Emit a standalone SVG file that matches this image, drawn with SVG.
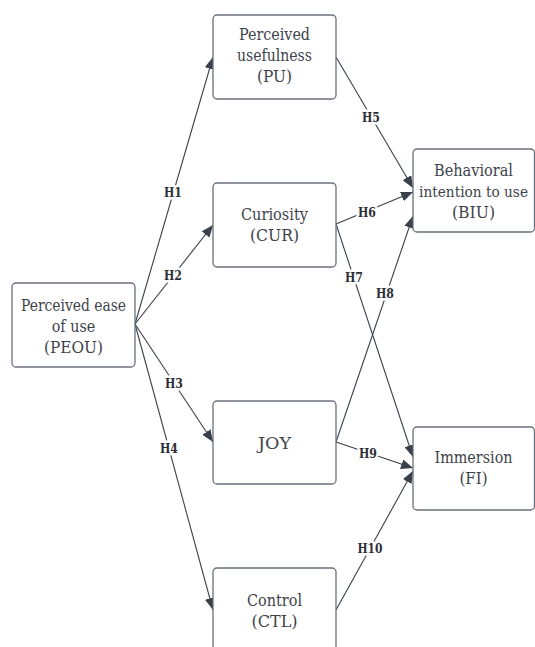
<svg xmlns="http://www.w3.org/2000/svg" width="535" height="647" viewBox="0 0 535 647">
<defs>
<style>
.box{fill:#fff;stroke:#6a717b;stroke-width:1.3}
.nt{font-family:"DejaVu Serif",serif;font-size:16px;fill:#3d434b;text-anchor:middle}
.edge{stroke:#3a4049;stroke-width:1.1;fill:none;marker-end:url(#ah)}
.lb{font-family:"DejaVu Serif",serif;font-size:12.5px;font-weight:bold;fill:#2b2f35;text-anchor:middle;stroke:#fff;stroke-width:5;paint-order:stroke;stroke-linejoin:round}
</style>
<marker id="ah" viewBox="0 0 12 10" refX="12" refY="5" markerWidth="12" markerHeight="10" markerUnits="userSpaceOnUse" orient="auto">
<path d="M0,0 L12,5 L0,10 Z" fill="#3a4049"/>
</marker>
</defs>
<rect width="535" height="647" fill="#fff"/>
<g id="connectors">
<line class="edge" x1="135" y1="324" x2="213" y2="57"/>
<line class="edge" x1="135" y1="324" x2="213" y2="225"/>
<line class="edge" x1="135" y1="324" x2="213" y2="442"/>
<line class="edge" x1="135" y1="324" x2="213" y2="610"/>
<line class="edge" x1="336" y1="57" x2="413" y2="188"/>
<line class="edge" x1="336" y1="224" x2="413" y2="192"/>
<line class="edge" x1="336" y1="224" x2="413" y2="457"/>
<line class="edge" x1="336" y1="442" x2="413" y2="216"/>
<line class="edge" x1="336" y1="442" x2="413" y2="468"/>
<line class="edge" x1="336" y1="610" x2="413" y2="471"/>
<text class="lb" x="173" y="197" textLength="18" lengthAdjust="spacingAndGlyphs">H1</text>
<text class="lb" x="173" y="280" textLength="18" lengthAdjust="spacingAndGlyphs">H2</text>
<text class="lb" x="174" y="388" textLength="18" lengthAdjust="spacingAndGlyphs">H3</text>
<text class="lb" x="169" y="453" textLength="18" lengthAdjust="spacingAndGlyphs">H4</text>
<text class="lb" x="371" y="122" textLength="18" lengthAdjust="spacingAndGlyphs">H5</text>
<text class="lb" x="367" y="217" textLength="18" lengthAdjust="spacingAndGlyphs">H6</text>
<text class="lb" x="354" y="282" textLength="18" lengthAdjust="spacingAndGlyphs">H7</text>
<text class="lb" x="385" y="298" textLength="18" lengthAdjust="spacingAndGlyphs">H8</text>
<text class="lb" x="368" y="458" textLength="18" lengthAdjust="spacingAndGlyphs">H9</text>
<text class="lb" x="370" y="553" textLength="25" lengthAdjust="spacingAndGlyphs">H10</text>
</g>
<g id="PEOU">
<rect class="box" x="12" y="283" width="123" height="84" rx="4"/>
<text class="nt" x="73.5" y="311" textLength="105" lengthAdjust="spacingAndGlyphs">Perceived ease</text>
<text class="nt" x="73.5" y="332" textLength="43.5" lengthAdjust="spacingAndGlyphs">of use</text>
<text class="nt" x="73.5" y="353" textLength="59" lengthAdjust="spacingAndGlyphs">(PEOU)</text>
</g>
<g id="PU">
<rect class="box" x="213" y="15" width="123" height="84" rx="4"/>
<text class="nt" x="274.5" y="40" textLength="71" lengthAdjust="spacingAndGlyphs">Perceived</text>
<text class="nt" x="274.5" y="61" textLength="75" lengthAdjust="spacingAndGlyphs">usefulness</text>
<text class="nt" x="274.5" y="82" textLength="35" lengthAdjust="spacingAndGlyphs">(PU)</text>
</g>
<g id="CUR">
<rect class="box" x="213" y="183" width="123" height="84" rx="4"/>
<text class="nt" x="274.5" y="220" textLength="67" lengthAdjust="spacingAndGlyphs">Curiosity</text>
<text class="nt" x="274.5" y="241" textLength="49" lengthAdjust="spacingAndGlyphs">(CUR)</text>
</g>
<g id="JOY">
<rect class="box" x="213" y="401" width="123" height="83" rx="4"/>
<text class="nt" x="274.5" y="449" textLength="33" lengthAdjust="spacingAndGlyphs">JOY</text>
</g>
<g id="CTL">
<rect class="box" x="213" y="568" width="123" height="84" rx="4"/>
<text class="nt" x="274.5" y="606" textLength="55" lengthAdjust="spacingAndGlyphs">Control</text>
<text class="nt" x="274.5" y="627" textLength="46" lengthAdjust="spacingAndGlyphs">(CTL)</text>
</g>
<g id="BIU">
<rect class="box" x="413" y="149" width="121.5" height="83" rx="4"/>
<text class="nt" x="473.5" y="176" textLength="79" lengthAdjust="spacingAndGlyphs">Behavioral</text>
<text class="nt" x="473.5" y="197" font-size="14" style="font-size:14px" textLength="109" lengthAdjust="spacingAndGlyphs">intention to use</text>
<text class="nt" x="473.5" y="218" textLength="43" lengthAdjust="spacingAndGlyphs">(BIU)</text>
</g>
<g id="FI">
<rect class="box" x="413" y="427" width="121.5" height="83" rx="4"/>
<text class="nt" x="473.5" y="463" textLength="78" lengthAdjust="spacingAndGlyphs">Immersion</text>
<text class="nt" x="473.5" y="484" textLength="28" lengthAdjust="spacingAndGlyphs">(FI)</text>
</g>
</svg>
